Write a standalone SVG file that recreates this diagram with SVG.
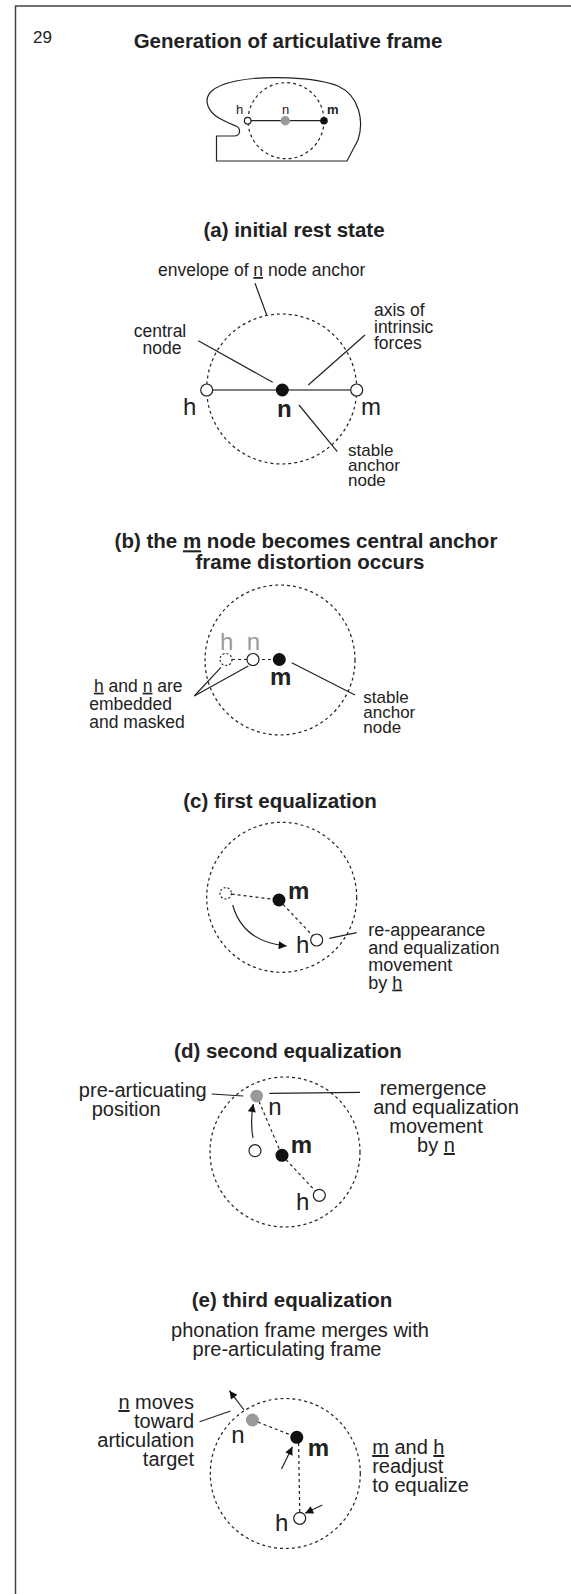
<svg xmlns="http://www.w3.org/2000/svg" width="571" height="1594" viewBox="0 0 571 1594">
<defs>
<style>
text{font-family:"Liberation Sans",Arial,sans-serif;fill:#222}
.hd{font-size:20.5px;font-weight:bold;text-anchor:middle}
.lb{font-size:17.5px}
.lc{font-size:18px}
.lb2{font-size:20px}
.st{font-size:17px}
.lt{font-size:24px}
.ltb{font-size:24px;font-weight:bold}
.sm{font-size:13px}
.env{fill:none;stroke:#222;stroke-width:1.2;stroke-dasharray:3,3}
.ln{fill:none;stroke:#222;stroke-width:1.2}
.dl{fill:none;stroke:#222;stroke-width:1.2;stroke-dasharray:3,3}
.op{fill:#fff;stroke:#222;stroke-width:1.2}
.opd{fill:#fff;stroke:#222;stroke-width:1.2;stroke-dasharray:2,2}
.bk{fill:#111}
.gr{fill:#999}
.u{text-decoration:underline}
</style>
<marker id="ah" viewBox="0 0 10 10" refX="10" refY="5" markerWidth="10" markerHeight="8" markerUnits="userSpaceOnUse" orient="auto">
<path d="M0,0 L10,5 L0,10 z" fill="#111"/>
</marker>
</defs>
<rect width="571" height="1594" fill="#fff"/>
<path d="M15.5,1594 V6 H571" fill="none" stroke="#444" stroke-width="1.5"/>
<text x="33" y="43" style="font-size:17px">29</text>
<text x="288" y="48" class="hd">Generation of articulative frame</text>

<g id="overview">
<path d="M216.5,161 V136 H234 C241,136 241,128 236,126 C226,122 212,117 208,106 C204,95 212,86 236,81 C265,75 315,77 338,86 C360,96 364,122 358,140 L347,161 Z" class="ln"/>
<circle cx="286" cy="120.7" r="38" class="env"/>
<line x1="247.7" y1="120.7" x2="324" y2="120.7" class="ln"/>
<circle cx="247.7" cy="120.7" r="3.3" class="op"/>
<circle cx="285.3" cy="120.7" r="4.7" class="gr"/>
<circle cx="324" cy="120.7" r="3.8" class="bk"/>
<text x="236" y="114" class="sm">h</text>
<text x="282" y="114" class="sm">n</text>
<text x="327" y="114" class="sm" font-weight="bold">m</text>
</g>

<g id="stage-a">
<text x="294" y="237" class="hd">(a) initial rest state</text>
<text x="158" y="276" class="lb">envelope of <tspan class="u">n</tspan> node anchor</text>
<circle cx="281.7" cy="389" r="75" class="env"/>
<line x1="206.7" y1="390" x2="356.7" y2="390" stroke="#555" stroke-width="1.5"/>
<circle cx="206.7" cy="390" r="6" class="op"/>
<circle cx="356.7" cy="390" r="6" class="op"/>
<circle cx="282.3" cy="390" r="6.5" class="bk"/>
<text x="183" y="415" class="lt">h</text>
<text x="277" y="417" class="ltb">n</text>
<text x="361" y="415" class="lt">m</text>
<text x="160" y="337" class="lb" text-anchor="middle">central</text>
<text x="162" y="353.5" class="lb" text-anchor="middle">node</text>
<text x="374" y="316" class="lb">axis of</text>
<text x="374" y="332.7" class="lb">intrinsic</text>
<text x="374" y="349.3" class="lb">forces</text>
<text x="348" y="456" class="st">stable</text>
<text x="348" y="471" class="st">anchor</text>
<text x="348" y="486" class="st">node</text>
</g>

<g id="stage-b">
<text x="306" y="548.3" class="hd">(b) the <tspan class="u">m</tspan> node becomes central anchor</text>
<text x="310" y="569.3" class="hd">frame distortion occurs</text>
<circle cx="280" cy="660" r="75" class="env"/>
<line x1="226" y1="659.5" x2="279.3" y2="659.5" class="dl"/>
<circle cx="226" cy="659.5" r="6" class="opd"/>
<circle cx="253" cy="659.5" r="6" class="op"/>
<circle cx="279.3" cy="659.5" r="6.5" class="bk"/>
<text x="220" y="650" class="lt" style="fill:#999">h</text>
<text x="246.7" y="650" class="lt" style="fill:#999">n</text>
<text x="270" y="685" class="ltb">m</text>
<text x="94" y="691.7" class="lb"><tspan class="u">h</tspan> and <tspan class="u">n</tspan> are</text>
<text x="89.3" y="710" class="lb">embedded</text>
<text x="89.3" y="728.3" class="lb">and masked</text>
<text x="363.3" y="703.3" class="st">stable</text>
<text x="363.3" y="718.3" class="st">anchor</text>
<text x="363.3" y="733.3" class="st">node</text>
</g>

<g id="stage-c">
<text x="280" y="808" class="hd">(c) first equalization</text>
<circle cx="281.7" cy="897.3" r="75" class="env"/>
<line x1="225.7" y1="893.3" x2="279" y2="900" class="dl"/>
<line x1="279" y1="900" x2="316.7" y2="940" class="dl"/>
<circle cx="225.7" cy="893.3" r="5.7" class="opd"/>
<circle cx="279" cy="900" r="6.5" class="bk"/>
<circle cx="316.7" cy="940" r="6" class="op"/>
<text x="288" y="899" class="ltb">m</text>
<text x="296" y="953.3" class="lt">h</text>
<text x="368.3" y="936" class="lc">re-appearance</text>
<text x="368.3" y="953.5" class="lc">and equalization</text>
<text x="368.3" y="971" class="lc">movement</text>
<text x="368.3" y="988.5" class="lc">by <tspan class="u">h</tspan></text>
</g>

<g id="stage-d">
<text x="288" y="1058.3" class="hd">(d) second equalization</text>
<circle cx="285" cy="1152" r="75" class="env"/>
<line x1="256.7" y1="1096" x2="282" y2="1155.3" class="dl"/>
<line x1="282" y1="1155.3" x2="319.3" y2="1195.3" class="dl"/>
<circle cx="256.7" cy="1096" r="6.3" class="gr"/>
<circle cx="255" cy="1150.7" r="6" class="op"/>
<circle cx="282" cy="1155.3" r="6.5" class="bk"/>
<circle cx="319.3" cy="1195.3" r="6" class="op"/>
<text x="268.3" y="1115" class="lt">n</text>
<text x="290.7" y="1153.3" class="ltb">m</text>
<text x="296" y="1210" class="lt">h</text>
<text x="206.7" y="1097" class="lb2" text-anchor="end">pre-articuating</text>
<text x="91.7" y="1116" class="lb2">position</text>
<text x="433" y="1095" class="lb2" text-anchor="middle">remergence</text>
<text x="446" y="1114" class="lb2" text-anchor="middle">and equalization</text>
<text x="436" y="1133" class="lb2" text-anchor="middle">movement</text>
<text x="436" y="1152" class="lb2" text-anchor="middle">by <tspan class="u">n</tspan></text>
</g>

<g id="stage-e">
<text x="292" y="1306.7" class="hd">(e) third equalization</text>
<text x="300" y="1336.5" class="lb2" text-anchor="middle">phonation frame merges with</text>
<text x="287" y="1355.5" class="lb2" text-anchor="middle">pre-articulating frame</text>
<circle cx="285.3" cy="1473.5" r="75" class="env"/>
<line x1="252.4" y1="1420" x2="296.8" y2="1437.3" class="dl"/>
<line x1="298.6" y1="1443" x2="299.7" y2="1512" class="dl"/>
<circle cx="252.4" cy="1420" r="6.5" class="gr"/>
<circle cx="296.8" cy="1437.3" r="6.5" class="bk"/>
<circle cx="299.7" cy="1518.3" r="6" class="op"/>
<text x="231.2" y="1442.7" class="lt">n</text>
<text x="307.7" y="1455.7" class="ltb">m</text>
<text x="275" y="1531" class="lt">h</text>
<text x="194" y="1409" class="lb2" text-anchor="end"><tspan class="u">n</tspan> moves</text>
<text x="194" y="1428" class="lb2" text-anchor="end">toward</text>
<text x="194" y="1447" class="lb2" text-anchor="end">articulation</text>
<text x="194" y="1466" class="lb2" text-anchor="end">target</text>
<text x="372.2" y="1454" class="lb2"><tspan class="u">m</tspan> and <tspan class="u">h</tspan></text>
<text x="372.2" y="1473" class="lb2">readjust</text>
<text x="372.2" y="1491.5" class="lb2">to equalize</text>
</g>

<g id="connectors">
<line x1="255" y1="283.3" x2="266.7" y2="315" class="ln"/>
<line x1="198.3" y1="340.7" x2="272.7" y2="382.3" class="ln"/>
<line x1="365" y1="335" x2="308.3" y2="385" class="ln"/>
<line x1="299" y1="405" x2="337.3" y2="451.7" class="ln"/>
<line x1="194.3" y1="696" x2="221" y2="667.3" class="ln"/>
<line x1="194.3" y1="696" x2="248.3" y2="666" class="ln"/>
<line x1="291.7" y1="662.7" x2="355" y2="695" class="ln"/>
<path d="M232.7,905 Q243,942 286.7,946" class="ln" marker-end="url(#ah)"/>
<line x1="329.3" y1="938.3" x2="356.7" y2="932.7" class="ln"/>
<line x1="211.7" y1="1094" x2="243.3" y2="1096" class="ln"/>
<line x1="269.3" y1="1093.3" x2="360" y2="1092.3" class="ln"/>
<path d="M253,1138 Q250,1122 253.3,1104" class="ln" marker-end="url(#ah)"/>
<line x1="199.6" y1="1421.7" x2="230.5" y2="1411" class="ln"/>
<line x1="244" y1="1410" x2="229.4" y2="1390.7" class="ln" marker-end="url(#ah)"/>
<line x1="281.5" y1="1469" x2="292.4" y2="1446.7" class="ln" marker-end="url(#ah)"/>
<line x1="322.3" y1="1505" x2="305.2" y2="1513.3" class="ln" marker-end="url(#ah)"/>
</g>
</svg>
